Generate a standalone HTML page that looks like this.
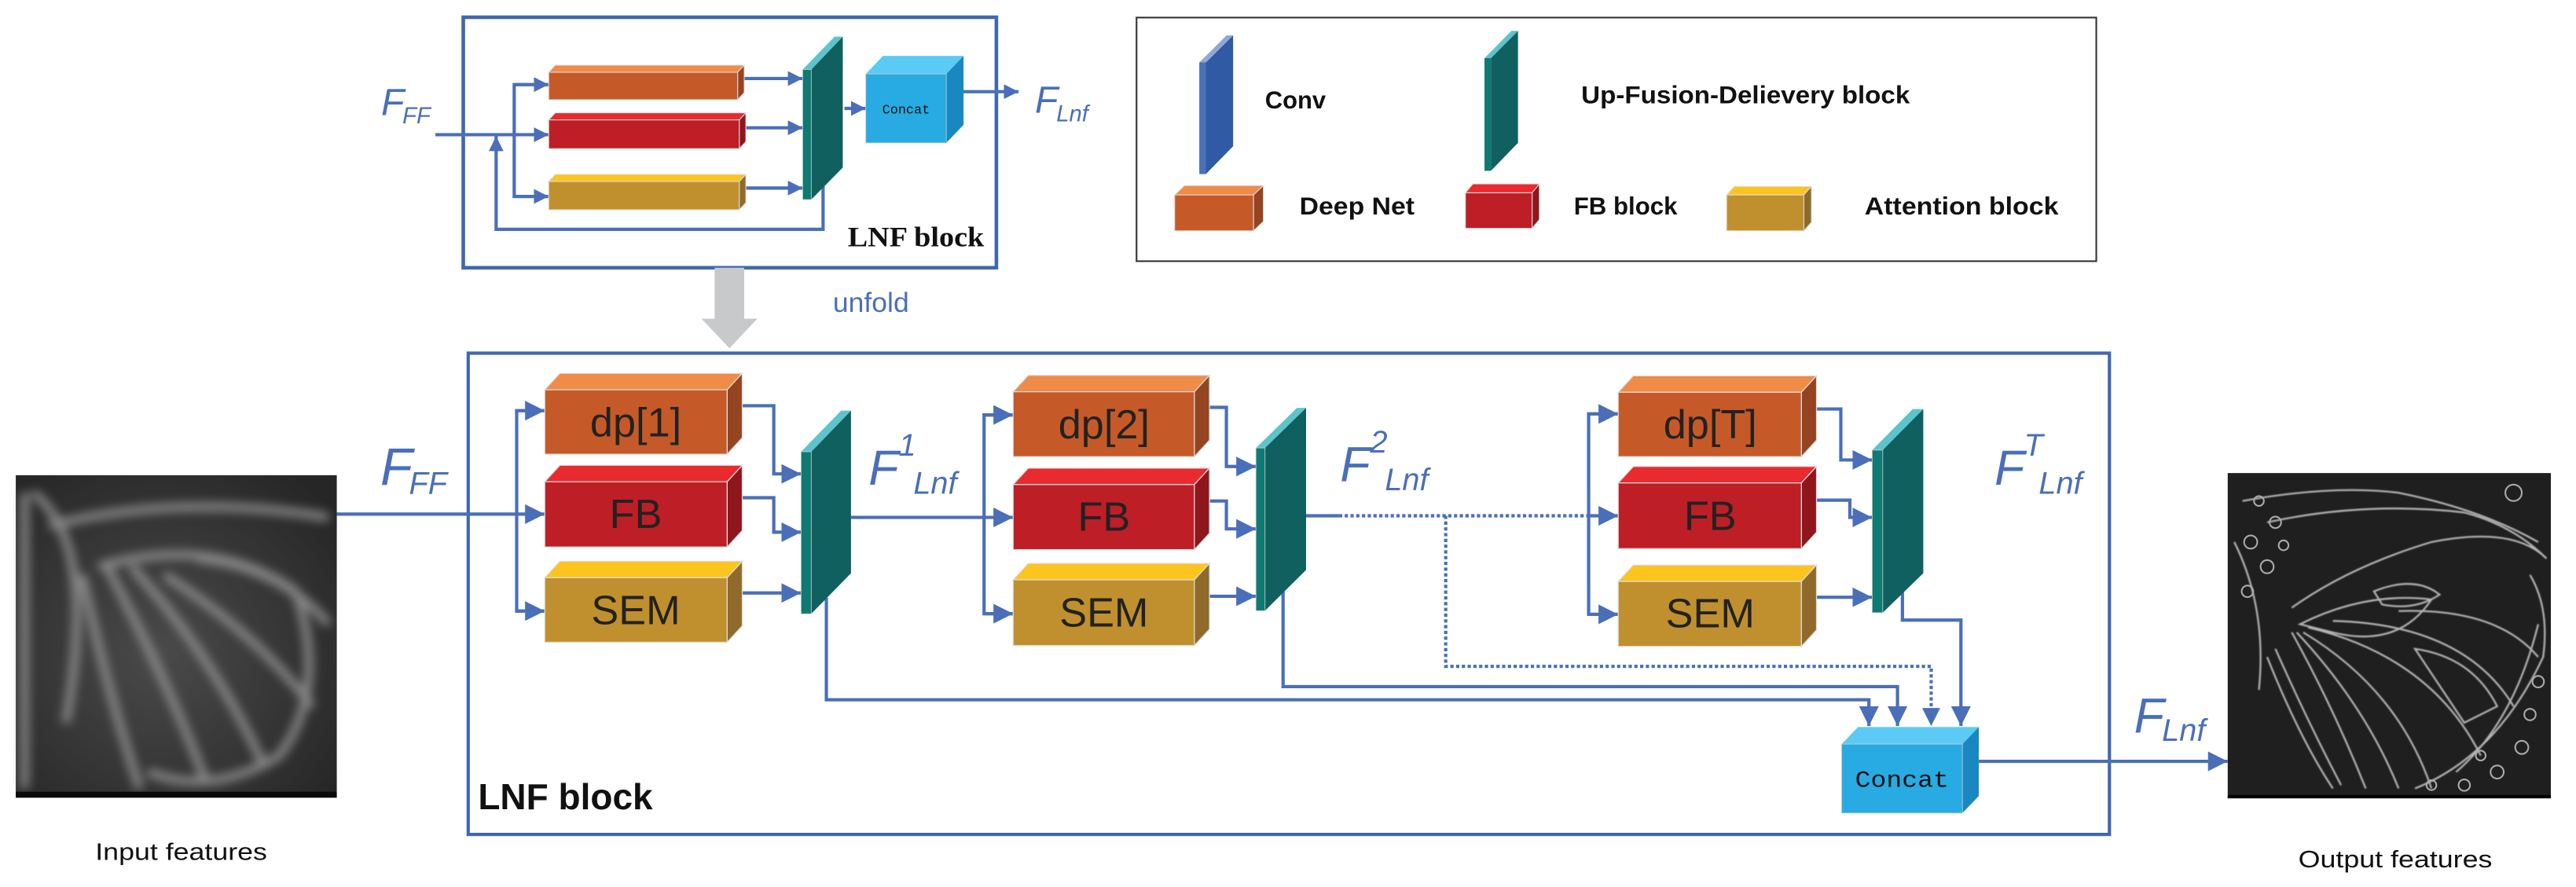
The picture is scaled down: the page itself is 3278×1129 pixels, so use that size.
<!DOCTYPE html>
<html><head><meta charset="utf-8"><style>
html,body{margin:0;padding:0;background:#fff;}
svg{display:block;}
</style></head><body>
<svg width="3278" height="1129" viewBox="0 0 1568 540" preserveAspectRatio="none" xmlns="http://www.w3.org/2000/svg" font-family="Liberation Sans, sans-serif">
<defs>
<marker id="a" markerUnits="userSpaceOnUse" markerWidth="12" markerHeight="12" refX="12" refY="6" orient="auto"><path d="M0,0 L12,6 L0,12 z" fill="#4a6fb8"/></marker>
<marker id="s" markerUnits="userSpaceOnUse" markerWidth="9" markerHeight="9" refX="9" refY="4.5" orient="auto"><path d="M0,0 L9,4.5 L0,9 z" fill="#4a6fb8"/></marker>
<filter id="bl"><feGaussianBlur stdDeviation="3"/></filter>
<filter id="bl2"><feGaussianBlur stdDeviation="0.4"/></filter>
<radialGradient id="ig" cx="0.45" cy="0.55" r="0.7"><stop offset="0" stop-color="#4a4a4a"/><stop offset="1" stop-color="#262626"/></radialGradient>
</defs>

<rect x="282" y="10.5" width="324.5" height="152.5" fill="none" stroke="#3f67b1" stroke-width="2.2"/>
<text x="232" y="70" fill="#4a6fb8" font-style="italic" font-size="23">F</text>
<text x="245" y="75" fill="#4a6fb8" font-style="italic" font-size="14">FF</text>
<g stroke="#4a6fb8" stroke-width="2" fill="none">
<line x1="265" y1="82" x2="334" y2="82" marker-end="url(#s)"/>
<polyline points="334,51.5 313,51.5 313,119.6 334,119.6" />
<line x1="313" y1="51.5" x2="334" y2="51.5" marker-end="url(#s)"/>
<line x1="313" y1="119.6" x2="334" y2="119.6" marker-end="url(#s)"/>
<polyline points="501,113 501,139.6 302,139.6 302,83" marker-end="url(#s)"/>
<line x1="450" y1="47.8" x2="488.6" y2="47.8" marker-end="url(#s)"/>
<line x1="451" y1="77.8" x2="488.6" y2="77.8" marker-end="url(#s)"/>
<line x1="451" y1="114.5" x2="488.6" y2="114.5" marker-end="url(#s)"/>
<line x1="514" y1="66" x2="527" y2="66" marker-end="url(#s)"/>
<line x1="586" y1="55.8" x2="620" y2="55.8" marker-end="url(#s)"/>
</g>
<g stroke="#ddd" stroke-width="0.5">
<polygon points="334,44 338,39.7 453,39.7 449,44" fill="#f08b48"/><polygon points="449,44 453,39.7 453,56.4 449,60.7" fill="#954421"/><rect x="334" y="44" width="115" height="16.7" fill="#c55a28"/>
<polygon points="334,73 338,68.7 454,68.7 450,73" fill="#e92a2e"/><polygon points="450,73 454,68.7 454,86.2 450,90.5" fill="#8e161c"/><rect x="334" y="73" width="116" height="17.5" fill="#be1e26"/>
<polygon points="334,110.5 338,106.2 454,106.2 450,110.5" fill="#fdc41e"/><polygon points="450,110.5 454,106.2 454,123.4 450,127.7" fill="#8f6a2a"/><rect x="334" y="110.5" width="116" height="17.2" fill="#c0902e"/>
</g>
<polygon points="493.8,42.3 513,22.3 513,102 493.8,121.5" fill="#116060"/>
<polygon points="488.6,42.3 493.8,42.3 513,22.3 508,22.3" fill="#5bc4cc"/>
<rect x="488.6" y="42.3" width="5.2" height="79.2" fill="#0e7a72" stroke="#ccc" stroke-width="0.4"/>
<polygon points="527,45 537.5,34 586.5,34 576,45" fill="#5bcbf5"/>
<polygon points="576,45 586.5,34 586.5,76 576,87" fill="#1a88c0"/>
<rect x="527" y="45" width="49" height="42" fill="#27abe2" stroke="#ccc" stroke-width="0.4"/>
<text x="551.5" y="69" style="font-family:'Liberation Mono',monospace" font-size="8" text-anchor="middle" fill="#111" textLength="29" lengthAdjust="spacingAndGlyphs">Concat</text>
<text x="630" y="68.6" fill="#4a6fb8" font-style="italic" font-size="23">F</text>
<text x="643" y="74" fill="#4a6fb8" font-style="italic" font-size="14">Lnf</text>
<text x="516" y="150" style="font-family:'Liberation Serif',serif" font-weight="bold" font-size="17" textLength="83" lengthAdjust="spacingAndGlyphs" fill="#111">LNF block</text>

<rect x="435" y="163" width="18" height="32" fill="#c8c9cb"/>
<polygon points="427,194 461,194 444,212" fill="#c8c9cb"/>
<text x="507" y="190" fill="#4a6fb8" font-size="17">unfold</text>

<rect x="691.8" y="10.7" width="584.2" height="148.3" fill="none" stroke="#333" stroke-width="1"/>
<polygon points="734,38 750.6,21.5 750.6,89 734,106" fill="#305aa3"/>
<polygon points="730,38 734,38 750.6,21.5 746.6,21.5" fill="#8fa8d8"/>
<rect x="730" y="38" width="4" height="68" fill="#4a72ba"/>
<text x="770" y="66" font-weight="bold" font-size="15" textLength="37" lengthAdjust="spacingAndGlyphs" fill="#111">Conv</text>
<polygon points="907.5,35.4 924,18.8 924,87 907.5,104" fill="#116060"/>
<polygon points="903.6,35.4 907.5,35.4 924,18.8 920,18.8" fill="#5bc4cc"/>
<rect x="903.6" y="35.4" width="3.9" height="68.6" fill="#0e7a72"/>
<text x="962.5" y="63" font-weight="bold" font-size="15" textLength="200" lengthAdjust="spacingAndGlyphs" fill="#111">Up-Fusion-Delievery block</text>
<g stroke="#ddd" stroke-width="0.5">
<polygon points="715,118.7 721,113 769,113 763,118.7" fill="#f08b48"/><polygon points="763,118.7 769,113 769,134.8 763,140.5" fill="#954421"/><rect x="715" y="118.7" width="48" height="21.8" fill="#c55a28"/>
<polygon points="892,117.4 896.5,112 937,112 932.6,117.4" fill="#e92a2e"/><polygon points="932.6,117.4 937,112 937,133.6 932.6,139" fill="#8e161c"/><rect x="892" y="117.4" width="40.6" height="21.6" fill="#be1e26"/>
<polygon points="1051,118.7 1055.6,113.5 1102.6,113.5 1098,118.7" fill="#fdc41e"/><polygon points="1098,118.7 1102.6,113.5 1102.6,135.3 1098,140.5" fill="#8f6a2a"/><rect x="1051" y="118.7" width="47" height="21.8" fill="#c0902e"/>
</g>
<text x="791" y="130.7" font-weight="bold" font-size="15" textLength="70" lengthAdjust="spacingAndGlyphs" fill="#111">Deep Net</text>
<text x="958" y="130.7" font-weight="bold" font-size="15" textLength="63" lengthAdjust="spacingAndGlyphs" fill="#111">FB block</text>
<text x="1135" y="130.7" font-weight="bold" font-size="15" textLength="118" lengthAdjust="spacingAndGlyphs" fill="#111">Attention block</text>

<rect x="285" y="215" width="999" height="293" fill="none" stroke="#3f67b1" stroke-width="2"/>
<text x="291" y="492.7" font-weight="bold" font-size="22" fill="#111">LNF block</text>

<rect x="9.6" y="289.3" width="195.4" height="196.3" fill="url(#ig)"/>
<g filter="url(#bl)" stroke="#a0a0a0" fill="none" stroke-width="5" opacity="0.8">
<path d="M30,320 Q110,300 200,315"/>
<path d="M60,345 Q130,325 180,360 Q200,420 170,460 Q130,485 90,470"/>
<path d="M50,350 Q65,420 85,480"/>
<path d="M65,345 Q100,410 125,475"/>
<path d="M80,345 Q130,400 160,465"/>
<path d="M100,350 Q155,385 190,430"/>
<path d="M120,340 Q170,345 200,380"/>
<path d="M15,300 L15,480"/>
<path d="M20,300 Q60,330 40,440"/>
</g>
<rect x="9.6" y="482" width="195.4" height="3.6" fill="#0a0a0a"/>
<text x="58" y="523.6" font-size="14.5" textLength="104.6" lengthAdjust="spacingAndGlyphs" fill="#111">Input features</text>

<rect x="1356" y="288" width="196.7" height="198" fill="#1f1f1f"/>
<g stroke="#b5b5b5" fill="none" stroke-width="1.1" filter="url(#bl2)">
<path d="M1365,305 Q1420,295 1460,300 Q1510,310 1545,330"/>
<path d="M1380,318 Q1440,305 1500,312 Q1530,320 1550,340"/>
<path d="M1395,370 Q1430,345 1480,330 Q1530,320 1550,340"/>
<path d="M1400,380 Q1440,360 1480,365 Q1460,395 1420,385 Z"/>
<path d="M1445,360 Q1470,350 1485,362 Q1470,372 1450,368 Z"/>
<path d="M1395,385 Q1420,430 1440,480"/>
<path d="M1398,385 Q1440,430 1460,480"/>
<path d="M1402,385 Q1460,420 1480,480"/>
<path d="M1405,382 Q1480,400 1510,460"/>
<path d="M1420,378 Q1500,380 1530,430"/>
<path d="M1460,372 Q1520,370 1545,400"/>
<path d="M1470,395 Q1505,400 1520,430 L1500,440 Z"/>
<path d="M1380,400 Q1400,450 1420,480"/>
<path d="M1385,395 Q1405,440 1425,478"/>
<path d="M1470,480 Q1520,460 1548,400 Q1552,370 1540,350"/>
<path d="M1495,470 Q1530,440 1545,380"/>
<path d="M1360,330 Q1380,370 1375,420"/>
</g>
<g fill="none" stroke="#aaa" stroke-width="1">
<circle cx="1370" cy="330" r="4"/><circle cx="1380" cy="345" r="4"/><circle cx="1368" cy="360" r="3.5"/><circle cx="1385" cy="318" r="3.5"/><circle cx="1375" cy="305" r="3"/><circle cx="1390" cy="332" r="3"/>
<circle cx="1520" cy="470" r="4"/><circle cx="1535" cy="455" r="4"/><circle cx="1540" cy="435" r="3.5"/><circle cx="1500" cy="478" r="3.5"/><circle cx="1545" cy="415" r="3.5"/><circle cx="1530" cy="300" r="5"/><circle cx="1480" cy="478" r="3"/><circle cx="1510" cy="460" r="3"/>
</g>
<rect x="1356" y="484" width="196.7" height="2" fill="#000"/>
<text x="1399" y="528" font-size="14.5" textLength="118" lengthAdjust="spacingAndGlyphs" fill="#111">Output features</text>

<g stroke="#4a6fb8" stroke-width="2" fill="none">
<line x1="205" y1="313" x2="331.6" y2="313" marker-end="url(#a)"/>
<polyline points="331.6,250 314.5,250 314.5,372 331.6,372"/>
<line x1="314.5" y1="250" x2="331.6" y2="250" marker-end="url(#a)"/>
<line x1="314.5" y1="372" x2="331.6" y2="372" marker-end="url(#a)"/>
<polyline points="443,247 471,247 471,288.5 487.6,288.5" marker-end="url(#a)"/>
<polyline points="443,303 471,303 471,324 487.6,324" marker-end="url(#a)"/>
<line x1="443" y1="361" x2="487.6" y2="361" marker-end="url(#a)"/>
<line x1="518" y1="315" x2="616.7" y2="315" marker-end="url(#a)"/>
<polyline points="616.7,252.6 599,252.6 599,373.6 616.7,373.6"/>
<line x1="599" y1="252.6" x2="616.7" y2="252.6" marker-end="url(#a)"/>
<line x1="599" y1="373.6" x2="616.7" y2="373.6" marker-end="url(#a)"/>
<polyline points="727,248 746.5,248 746.5,284 764.5,284" marker-end="url(#a)"/>
<polyline points="727,305 746.5,305 746.5,322 764.5,322" marker-end="url(#a)"/>
<line x1="727" y1="363" x2="764.5" y2="363" marker-end="url(#a)"/>
<line x1="795" y1="314" x2="815" y2="314"/>
<polyline points="985,252 967,252 967,374 985,374"/>
<line x1="967" y1="252" x2="985" y2="252" marker-end="url(#a)"/>
<line x1="967" y1="374" x2="985" y2="374" marker-end="url(#a)"/>
<line x1="967" y1="314" x2="985" y2="314" marker-end="url(#a)"/>
<polyline points="1096.5,249 1120.5,249 1120.5,280 1139.6,280" marker-end="url(#a)"/>
<polyline points="1096.5,304.5 1126,304.5 1126,315 1139.6,315" marker-end="url(#a)"/>
<line x1="1097" y1="363.6" x2="1139.6" y2="363.6" marker-end="url(#a)"/>
<polyline points="503,364 503,426 1137.6,426 1137.6,442" marker-end="url(#a)"/>
<polyline points="781,347 781,418 1155,418 1155,442" marker-end="url(#a)"/>
<polyline points="1158,349 1158,377.5 1193.6,377.5 1193.6,442" marker-end="url(#a)"/>
<line x1="1204.5" y1="463.5" x2="1356" y2="463.5" marker-end="url(#a)"/>
</g>
<g stroke="#4a6fb8" stroke-width="2" fill="none" stroke-dasharray="2 1.5">
<line x1="815" y1="314" x2="967" y2="314"/>
<polyline points="880,314 880,405.7 1175.5,405.7 1175.5,432"/>
</g>
<polygon points="1170,431 1181,431 1175.5,442" fill="#4a6fb8"/>

<g stroke="#ddd" stroke-width="0.6">
<polygon points="331.6,237.3 340.8,227.3 451.8,227.3 442.6,237.3" fill="#f08b48"/><polygon points="442.6,237.3 451.8,227.3 451.8,266.5 442.6,276.5" fill="#954421"/><rect x="331.6" y="237.3" width="111" height="39.2" fill="#c55a28"/>
<polygon points="331.6,293.3 340.8,283.3 451.8,283.3 442.6,293.3" fill="#e92a2e"/><polygon points="442.6,293.3 451.8,283.3 451.8,323 442.6,333" fill="#8e161c"/><rect x="331.6" y="293.3" width="111" height="39.7" fill="#be1e26"/>
<polygon points="331.6,351.7 340.8,341.7 451.8,341.7 442.6,351.7" fill="#fdc41e"/><polygon points="442.6,351.7 451.8,341.7 451.8,381 442.6,391" fill="#8f6a2a"/><rect x="331.6" y="351.7" width="111" height="39.3" fill="#c0902e"/>
<polygon points="616.7,238.5 625.9,228.5 736.2,228.5 727,238.5" fill="#f08b48"/><polygon points="727,238.5 736.2,228.5 736.2,268 727,278" fill="#954421"/><rect x="616.7" y="238.5" width="110.3" height="39.5" fill="#c55a28"/>
<polygon points="616.7,295 625.9,285 736.2,285 727,295" fill="#e92a2e"/><polygon points="727,295 736.2,285 736.2,324.6 727,334.6" fill="#8e161c"/><rect x="616.7" y="295" width="110.3" height="39.6" fill="#be1e26"/>
<polygon points="616.7,353 625.9,343 736.2,343 727,353" fill="#fdc41e"/><polygon points="727,353 736.2,343 736.2,383 727,393" fill="#8f6a2a"/><rect x="616.7" y="353" width="110.3" height="40" fill="#c0902e"/>
<polygon points="985,238.8 994.2,228.8 1105.7,228.8 1096.5,238.8" fill="#f08b48"/><polygon points="1096.5,238.8 1105.7,228.8 1105.7,268 1096.5,278" fill="#954421"/><rect x="985" y="238.8" width="111.5" height="39.2" fill="#c55a28"/>
<polygon points="985,294 994.2,284 1105.7,284 1096.5,294" fill="#e92a2e"/><polygon points="1096.5,294 1105.7,284 1105.7,324 1096.5,334" fill="#8e161c"/><rect x="985" y="294" width="111.5" height="40" fill="#be1e26"/>
<polygon points="985,354 994.2,344 1105.7,344 1096.5,354" fill="#fdc41e"/><polygon points="1096.5,354 1105.7,344 1105.7,383.5 1096.5,393.5" fill="#8f6a2a"/><rect x="985" y="354" width="111.5" height="39.5" fill="#c0902e"/>
</g>
<g font-size="25" fill="#222" text-anchor="middle">
<text x="387" y="265.6">dp[1]</text><text x="387" y="321.5">FB</text><text x="387" y="380">SEM</text>
<text x="672" y="266.8">dp[2]</text><text x="672" y="323">FB</text><text x="672" y="381.5">SEM</text>
<text x="1041" y="267">dp[T]</text><text x="1041" y="322.5">FB</text><text x="1041" y="382">SEM</text>
</g>

<polygon points="493.8,275 518,250 518,349 493.8,373.7" fill="#116060"/>
<polygon points="487.6,275 493.8,275 518,250 512,250" fill="#5bc4cc"/>
<rect x="487.6" y="275" width="6.2" height="98.7" fill="#0e7a72" stroke="#ccc" stroke-width="0.4"/>
<polygon points="770,272.7 795,248.3 795,347 770,371.8" fill="#116060"/>
<polygon points="764.5,272.7 770,272.7 795,248.3 789.5,248.3" fill="#5bc4cc"/>
<rect x="764.5" y="272.7" width="5.5" height="99.1" fill="#0e7a72" stroke="#ccc" stroke-width="0.4"/>
<polygon points="1146,274 1170.7,249 1170.7,349 1146,373" fill="#116060"/>
<polygon points="1139.6,274 1146,274 1170.7,249 1164.3,249" fill="#5bc4cc"/>
<rect x="1139.6" y="274" width="6.4" height="99" fill="#0e7a72" stroke="#ccc" stroke-width="0.4"/>

<polygon points="1121,453 1131,442.6 1204.5,442.6 1194.5,453" fill="#5bcbf5"/>
<polygon points="1194.5,453 1204.5,442.6 1204.5,484.6 1194.5,495" fill="#1a88c0"/>
<rect x="1121" y="453" width="73.5" height="42" fill="#27abe2" stroke="#ccc" stroke-width="0.4"/>
<text x="1157.7" y="479" style="font-family:'Liberation Mono',monospace" font-size="14" text-anchor="middle" fill="#111" textLength="57" lengthAdjust="spacingAndGlyphs">Concat</text>

<g fill="#4a6fb8" font-style="italic">
<text x="231.5" y="295" font-size="32">F</text><text x="249" y="300.5" font-size="19">FF</text>
<text x="528.7" y="295" font-size="30">F</text><text x="547" y="277.5" font-size="19">1</text><text x="556" y="300.5" font-size="19">Lnf</text>
<text x="815.7" y="293" font-size="30">F</text><text x="834" y="275.5" font-size="19">2</text><text x="843" y="298.5" font-size="19">Lnf</text>
<text x="1214" y="295" font-size="30">F</text><text x="1232" y="277.5" font-size="19">T</text><text x="1241" y="300.5" font-size="19">Lnf</text>
<text x="1299" y="446" font-size="30">F</text><text x="1316" y="451" font-size="19">Lnf</text>
</g>
</svg>
</body></html>
